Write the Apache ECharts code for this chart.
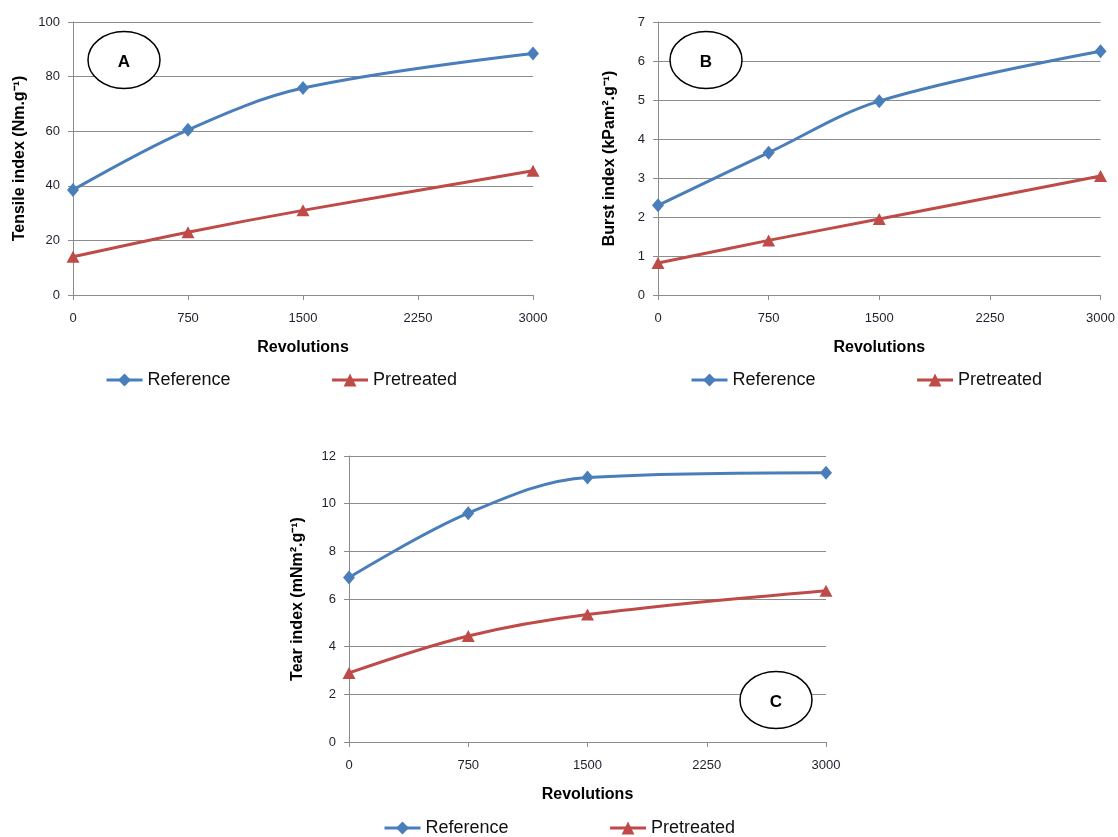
<!DOCTYPE html>
<html>
<head>
<meta charset="utf-8">
<script src="https://cdn.jsdelivr.net/npm/echarts@6/dist/echarts.min.js"></script>
<style>html,body{margin:0;padding:0;background:#fff}#c{width:1118px;height:837px}</style>
</head>
<body>
<div id="c"></div>
<script>
const revolutions = [0, 750, 1500, 3000];
const xTicks = [0, 750, 1500, 2250, 3000];
const seriesNames = ['Reference', 'Pretreated'];
// A: Tensile index
const tensileReference = [38.5, 60.5, 75.8, 88.5];
const tensilePretreated = [14, 23, 31, 45.5];
// B: Burst index
const burstReference = [2.3, 3.65, 4.97, 6.25];
const burstPretreated = [0.82, 1.4, 1.95, 3.05];
// C: Tear index
const tearReference = [6.9, 9.6, 11.1, 11.3];
const tearPretreated = [2.9, 4.45, 5.35, 6.35];
const panelLabels = ['A', 'B', 'C'];
const yNames = ['Tensile index (Nm.g\u207B\u00B9)', 'Burst index (kPam\u00B2.g\u207B\u00B9)', 'Tear index (mNm\u00B2.g\u207B\u00B9)'];
const yMax = [100, 7, 12];
const yInterval = [20, 1, 2];

const FONT = '"Liberation Sans", Arial, sans-serif';
const BLUE = '#4A7EBB', RED = '#BE4B48';
const grids = [
  {left: 73, right: 585, top: 22, bottom: 542},
  {left: 658, right: 16, top: 22, bottom: 542},
  {left: 349, right: 292, top: 456, bottom: 95}
];
const nameGaps = [45, 40, 43];
function xAxis(i) {
  return {
    type: 'value', gridIndex: i, min: 0, max: 3000, interval: 750,
    name: 'Revolutions', nameLocation: 'middle', nameGap: 45,
    nameTextStyle: {fontFamily: FONT, fontWeight: 'bold', fontSize: 16, color: '#000'},
    axisLine: {show: true, lineStyle: {color: '#8c8c8c', width: 1}},
    axisTick: {show: true, inside: false, length: 5, lineStyle: {color: '#8c8c8c'}},
    axisLabel: {fontFamily: FONT, fontSize: 13, color: '#1f1f2f', margin: 17,
      formatter: v => String(xTicks[xTicks.indexOf(v)])},
    splitLine: {show: false}
  };
}
function yAxis(i) {
  return {
    type: 'value', gridIndex: i, min: 0, max: yMax[i], interval: yInterval[i],
    name: yNames[i], nameLocation: 'middle', nameGap: nameGaps[i],
    nameTextStyle: {fontFamily: FONT, fontWeight: 'bold', fontSize: 16, color: '#000'},
    axisLine: {show: true, lineStyle: {color: '#8c8c8c', width: 1}},
    axisTick: {show: true, inside: false, length: 5, lineStyle: {color: '#8c8c8c'}},
    axisLabel: {fontFamily: FONT, fontSize: 13, color: '#1f1f2f', margin: 13},
    splitLine: {show: true, lineStyle: {color: '#8c8c8c', width: 1}}
  };
}
function pairs(ys) { return revolutions.map((x, k) => [x, ys[k]]); }
function line(name, ys, i, color, symbol) {
  return {
    type: 'line', name: name, xAxisIndex: i, yAxisIndex: i,
    data: pairs(ys), smooth: 0.35, symbol: symbol,
    symbolSize: symbol === 'diamond' ? [12, 14] : [13, 12],
    itemStyle: {color: color}, lineStyle: {color: color, width: 3},
    emphasis: {disabled: true}
  };
}
const legendPos = [{left: 100, top: 366}, {left: 685, top: 366}, {left: 378, top: 814}];
const legends = legendPos.map(p => ({
  left: p.left, top: p.top, itemGap: 100, itemWidth: 36, itemHeight: 16,
  data: seriesNames,
  lineStyle: {width: 3},
  textStyle: {fontFamily: FONT, fontSize: 18, color: '#111'}
}));
const ellipses = [[124, 60], [706, 60], [776, 700]];
const graphic = [];
ellipses.forEach((c, i) => {
  graphic.push({type: 'ellipse', shape: {cx: c[0], cy: c[1], rx: 36, ry: 28.5},
    style: {fill: '#fff', stroke: '#000', lineWidth: 1.5}, z: 100});
  graphic.push({type: 'text', x: c[0], y: c[1] + 2,
    style: {text: panelLabels[i], font: 'bold 17px ' + FONT, fill: '#000', align: 'center', verticalAlign: 'middle'}, z: 101});
});

const chart = echarts.init(document.getElementById('c'), null, {renderer: 'canvas'});
chart.setOption({
  animation: false,
  grid: grids,
  xAxis: [0, 1, 2].map(xAxis),
  yAxis: [0, 1, 2].map(yAxis),
  legend: legends,
  series: [
    line(seriesNames[0], tensileReference, 0, BLUE, 'diamond'),
    line(seriesNames[1], tensilePretreated, 0, RED, 'triangle'),
    line(seriesNames[0], burstReference, 1, BLUE, 'diamond'),
    line(seriesNames[1], burstPretreated, 1, RED, 'triangle'),
    line(seriesNames[0], tearReference, 2, BLUE, 'diamond'),
    line(seriesNames[1], tearPretreated, 2, RED, 'triangle')
  ],
  graphic: graphic
});
</script>
</body>
</html>
